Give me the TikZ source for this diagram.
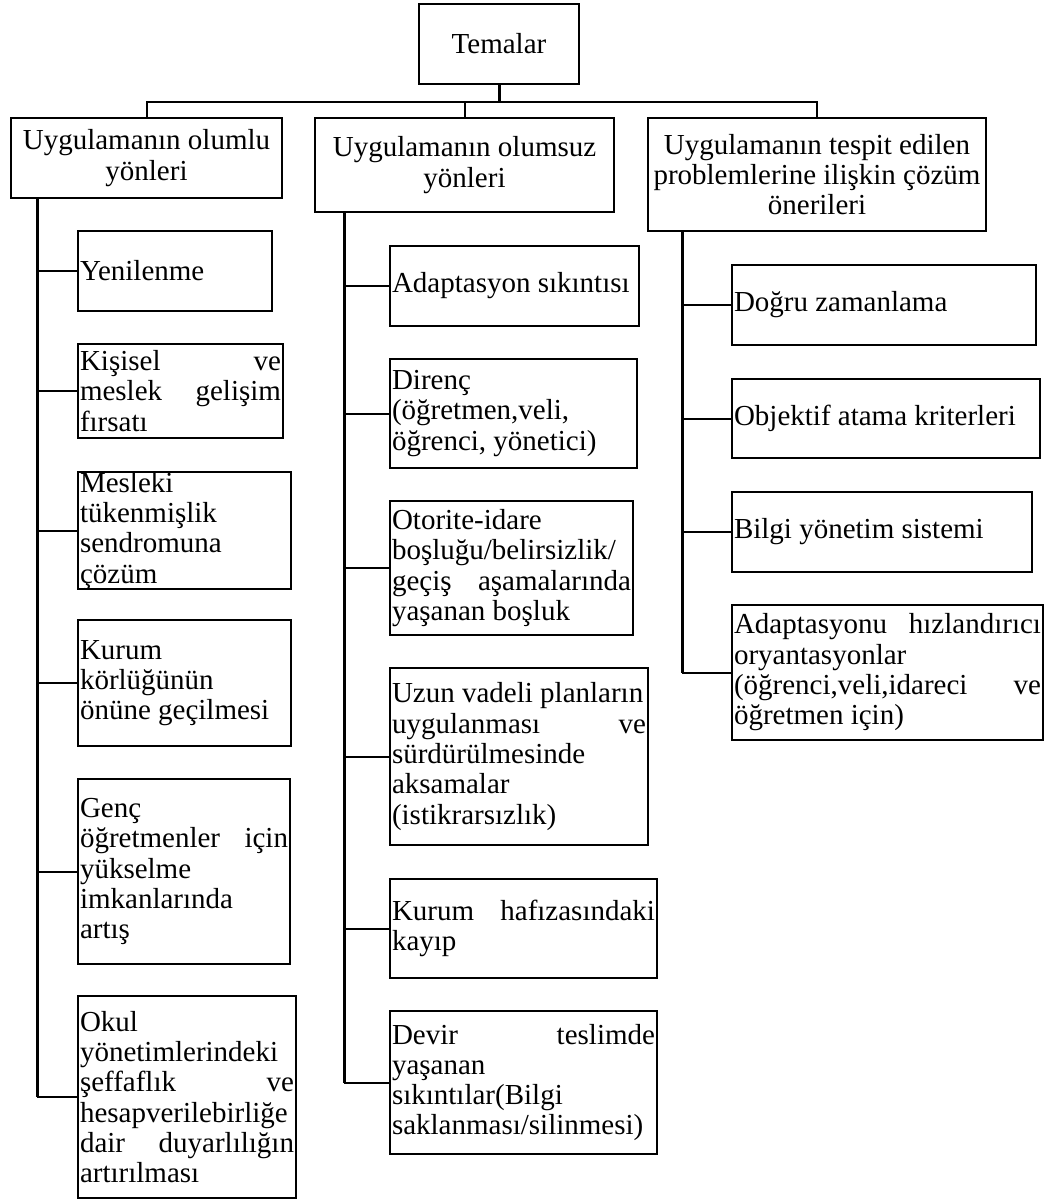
\documentclass[tikz,border=0pt]{standalone}
\usepackage{fontspec}
\setmainfont{Liberation Serif}
\usetikzlibrary{positioning}

\begin{document}
\begin{tikzpicture}[x=1pt, y=-1pt,
  kutu/.style={draw, line width=2pt, anchor=north west, inner xsep=2pt, inner ysep=0pt, align=flush left, font=\fontsize{29}{30.3}\selectfont},
  baslik/.style={kutu, align=flush center},
  dal/.style={line width=2pt},
  govde/.style={line width=3pt}]
\useasboundingbox (0,0) rectangle (1045,1200);

% ust
\node[baslik, text width=156pt, minimum height=80pt] (tema) at (418,3) {Temalar};
\node[baslik, text width=267pt, minimum height=80pt] (olumlu) at (10,117) {Uygulamanın olumlu\\ yönleri};
\node[baslik, text width=295pt, minimum height=94pt] (olumsuz) at (314,117) {Uygulamanın olumsuz\\ yönleri};
\node[baslik, text width=334pt, minimum height=113pt] (oneri) at (647,117) {Uygulamanın tespit edilen\\ problemlerine ilişkin çözüm\\ önerileri};

% olumlu yonler
\node[kutu, text width=190pt, minimum height=80pt] (a1) at (77,230) {Yenilenme};
\node[kutu, text width=201pt, minimum height=94pt] (a2) at (77,343) {Kişisel\hfill ve\\ meslek\hfill gelişim\\ fırsatı};
\node[kutu, text width=209pt, minimum height=115pt] (a3) at (77,471) {Mesleki\\ tükenmişlik\\ sendromuna\\ çözüm};
\node[kutu, text width=209pt, minimum height=126pt] (a4) at (77,619) {Kurum\\ körlüğünün\\ önüne geçilmesi};
\node[kutu, text width=208pt, minimum height=185pt] (a5) at (77,778) {Genç\\ öğretmenler\hfill için\\ yükselme\\ imkanlarında\\ artış};
\node[kutu, text width=214pt, minimum height=202pt] (a6) at (77,995) {Okul\\ yönetimlerindeki\\ şeffaflık\hfill ve\\ hesapverilebirliğe\\ dair\hfill duyarlılığın\\ artırılması};

% olumsuz yonler
\node[kutu, text width=245pt, minimum height=80pt] (b1) at (389,245) {Adaptasyon sıkıntısı};
\node[kutu, text width=243pt, minimum height=109pt] (b2) at (389,358) {Direnç\\ (öğretmen,veli,\\ öğrenci, yönetici)};
\node[kutu, text width=239pt, minimum height=134pt] (b3) at (389,500) {Otorite-idare\\ boşluğu/belirsizlik/\\ geçiş\hfill aşamalarında\\ yaşanan boşluk};
\node[kutu, text width=254pt, minimum height=177pt] (b4) at (389,667) {\mbox{Uzun vadeli planların}\\ uygulanması\hfill ve\\ sürdürülmesinde\\ aksamalar\\ (istikrarsızlık)};
\node[kutu, text width=263pt, minimum height=99pt] (b5) at (389,878) {Kurum\hfill hafızasındaki\\ kayıp};
\node[kutu, text width=263pt, minimum height=143pt] (b6) at (389,1010) {Devir\hfill teslimde\\ yaşanan\\ sıkıntılar(Bilgi\\ saklanması/silinmesi)};

% cozum onerileri
\node[kutu, text width=300pt, minimum height=80pt] (c1) at (731,264) {Doğru zamanlama};
\node[kutu, text width=304pt, minimum height=79pt] (c2) at (731,378) {Objektif atama kriterleri};
\node[kutu, text width=296pt, minimum height=80pt] (c3) at (731,491) {Bilgi yönetim sistemi};
\node[kutu, text width=307pt, minimum height=135pt] (c4) at (731,604) {Adaptasyonu\hfill hızlandırıcı\\ oryantasyonlar\\ (öğrenci,veli,idareci\hfill ve\\ öğretmen için)};

% baglantilar
\path (tema.south) ++(0,17) coordinate (bar);
\draw[govde] (tema.south) -- (bar);
\draw[dal] (bar) -| (olumlu.north);
\draw[dal] (bar) -| (olumsuz.north);
\draw[dal] (bar) -| (oneri.north);

\coordinate (sA) at ([xshift=27pt]olumlu.south west);
\coordinate (sB) at ([xshift=30pt]olumsuz.south west);
\coordinate (sC) at ([xshift=35pt]oneri.south west);
\draw[govde] (sA) -- (sA |- a6.west);
\draw[govde] (sB) -- (sB |- b6.west);
\draw[govde] (sC) -- (sC |- c4.west);
\foreach \n in {a1,a2,a3,a4,a5,a6} \draw[dal] (sA |- \n.west) -- (\n.west);
\foreach \n in {b1,b2,b3,b4,b5,b6} \draw[dal] (sB |- \n.west) -- (\n.west);
\foreach \n in {c1,c2,c3,c4} \draw[dal] (sC |- \n.west) -- (\n.west);
\end{tikzpicture}
\end{document}
